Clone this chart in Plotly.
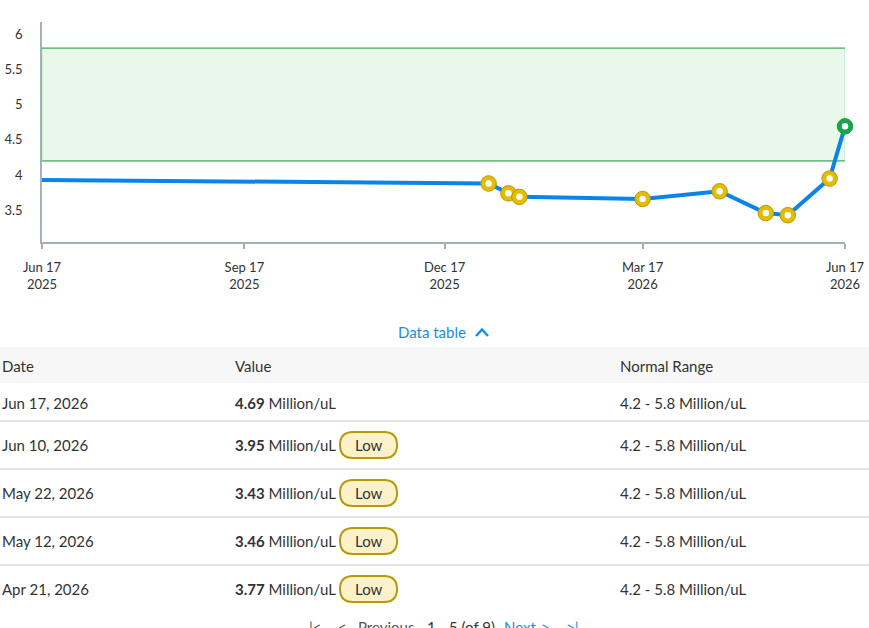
import datetime as dt
import plotly.graph_objects as go

W, H = 869, 628

# results (oldest first)
dates = ["2026-01-06", "2026-01-15", "2026-01-20", "2026-03-17", "2026-04-21",
         "2026-05-12", "2026-05-22", "2026-06-10", "2026-06-17"]
values = [3.88, 3.74, 3.69, 3.66, 3.77, 3.46, 3.43, 3.95, 4.69]

# line comes in from the left edge of the window
lead_date = "2025-06-17"
lead_value = 3.93

range_low = 4.2
range_high = 5.8
unit = "Million/uL"

x_start = "2025-06-17"
x_end = "2026-06-17"
tick_dates = ["2025-06-17", "2025-09-17", "2025-12-17", "2026-03-17", "2026-06-17"]
tick_labels = ["Jun 17<br>2025", "Sep 17<br>2025", "Dec 17<br>2025", "Mar 17<br>2026", "Jun 17<br>2026"]
y_ticks = [3.5, 4, 4.5, 5, 5.5, 6]

rows_shown = 5

FONT = "Lato"
TXT = "#333333"
BLUE = "#0a84e8"


def px(x):
    return x / W


def py(y):
    return 1 - y / H


in_range = [range_low <= v <= range_high for v in values]
ring_colors = ["#16a34a" if ok else "#e2bd00" for ok in in_range]
edge_colors = ["#16a34a" if ok else "#b8980a" for ok in in_range]

fig = go.Figure()

# normal range band
fig.add_shape(type="rect", xref="x", yref="y", x0=x_start, x1=x_end,
              y0=range_low, y1=range_high, fillcolor="#e9f9e9",
              line=dict(width=1, color="#b5e6bd"), layer="below")
for lvl in (range_low, range_high):
    fig.add_shape(type="line", xref="x", yref="y", x0=x_start, x1=x_end,
                  y0=lvl, y1=lvl, line=dict(width=1.3, color="#4cb466"), layer="below")

fig.add_trace(go.Scatter(
    x=[lead_date] + dates, y=[lead_value] + values, mode="lines",
    line=dict(color=BLUE, width=4), hoverinfo="skip", showlegend=False))

fig.add_trace(go.Scatter(
    x=dates, y=values, mode="markers", showlegend=False,
    marker=dict(size=15.5, color=ring_colors, line=dict(width=1, color=edge_colors)),
    cliponaxis=False))
fig.add_trace(go.Scatter(
    x=dates, y=values, mode="markers", showlegend=False, hoverinfo="skip",
    marker=dict(size=6.5, color="white"), cliponaxis=False))

fig.update_xaxes(
    domain=[px(42), px(845)], range=[x_start, x_end], type="date",
    tickvals=tick_dates, ticktext=tick_labels, ticks="outside", ticklen=5,
    tickcolor="#a3b0b9", tickwidth=1.5, showline=True, linecolor="#a3b0b9",
    linewidth=1.5, showgrid=False, zeroline=False, automargin=False,
    ticklabelstandoff=8,
    tickfont=dict(family=FONT, size=13, color=TXT))
fig.update_yaxes(
    domain=[py(242), py(22)], range=[3.05, 6.17], tickvals=y_ticks,
    showline=True, linecolor="#a3b0b9", linewidth=1.5, showgrid=False,
    zeroline=False, ticks="", ticklabelstandoff=15, automargin=False,
    tickfont=dict(family=FONT, size=13, color=TXT))

annotations = []


def text(x, y, s, size=15, color=TXT, xanchor="left"):
    annotations.append(dict(xref="paper", yref="paper", x=px(x), y=py(y), text=s,
                            showarrow=False, xanchor=xanchor, yanchor="middle",
                            font=dict(family=FONT, size=size, color=color)))


# data table toggle
text(432, 332, "Data table", color="#1a8de3", xanchor="center")
fig.add_shape(type="path", xref="paper", yref="paper",
              path=f"M {px(476)} {py(336)} L {px(482)} {py(329.5)} L {px(488)} {py(336)}",
              line=dict(color="#1a8de3", width=2.5))

# header band
fig.add_shape(type="rect", xref="paper", yref="paper", x0=0, x1=1,
              y0=py(383), y1=py(347), fillcolor="#f7f7f7", line=dict(width=0))
col_date, col_val, col_rng = 0, 233, 618
text(col_date, 366, "Date")
text(col_val, 366, "Value")
text(col_rng, 366, "Normal Range")

row_tops = [383, 421, 469, 517, 565]
row_bottoms = [421, 469, 517, 565, 613]
recent = list(zip(dates, values))[::-1][:rows_shown]
for i, (d, v) in enumerate(recent):
    top, bot = row_tops[i], row_bottoms[i]
    cy = (top + bot) / 2 + (1 if i == 0 else 0)
    label = dt.datetime.strptime(d, "%Y-%m-%d").strftime("%b %d, %Y").replace(" 0", " ")
    text(col_date, cy, label)
    text(col_val, cy, f"<b>{v:.2f}</b> {unit}")
    text(col_rng, cy, f"{range_low:g} - {range_high:g} {unit}")
    if v < range_low:
        x0, x1 = 340, 397
        y0, y1 = cy - 13, cy + 13
        r = 13
        path = (f"M {px(x0 + r)} {py(y0)} L {px(x1 - r)} {py(y0)} "
                f"Q {px(x1)} {py(y0)} {px(x1)} {py(cy)} "
                f"Q {px(x1)} {py(y1)} {px(x1 - r)} {py(y1)} "
                f"L {px(x0 + r)} {py(y1)} "
                f"Q {px(x0)} {py(y1)} {px(x0)} {py(cy)} "
                f"Q {px(x0)} {py(y0)} {px(x0 + r)} {py(y0)} Z")
        fig.add_shape(type="path", xref="paper", yref="paper", path=path,
                      fillcolor="#fbf2cc", line=dict(color="#b8980a", width=2))
        text((x0 + x1) / 2, cy, "Low", xanchor="center")
    if i < rows_shown - 1:
        fig.add_shape(type="line", xref="paper", yref="paper", x0=0, x1=1,
                      y0=py(bot), y1=py(bot), line=dict(color="#d9d9d9", width=1.5))

# pager (cut off at the bottom of the window, as in the page)
pager_y = 627
text(315, pager_y, "|&lt;", color="#555555", xanchor="center")
text(342, pager_y, "&lt;", color="#555555", xanchor="center")
text(356, pager_y, "Previous", color="#555555")
text(425, pager_y, f"1 - {rows_shown} (of {len(values)})", color=TXT)
text(502, pager_y, "Next", color="#1a8de3")
text(545, pager_y, "&gt;", color="#1a8de3", xanchor="center")
text(572, pager_y, "&gt;|", color="#1a8de3", xanchor="center")

fig.update_layout(
    width=W, height=H, margin=dict(l=0, r=0, t=0, b=0),
    paper_bgcolor="white", plot_bgcolor="white",
    annotations=annotations, font=dict(family=FONT))

fig.write_html("out.html", config={"displayModeBar": False},
               post_script="document.body.style.margin='0';")
